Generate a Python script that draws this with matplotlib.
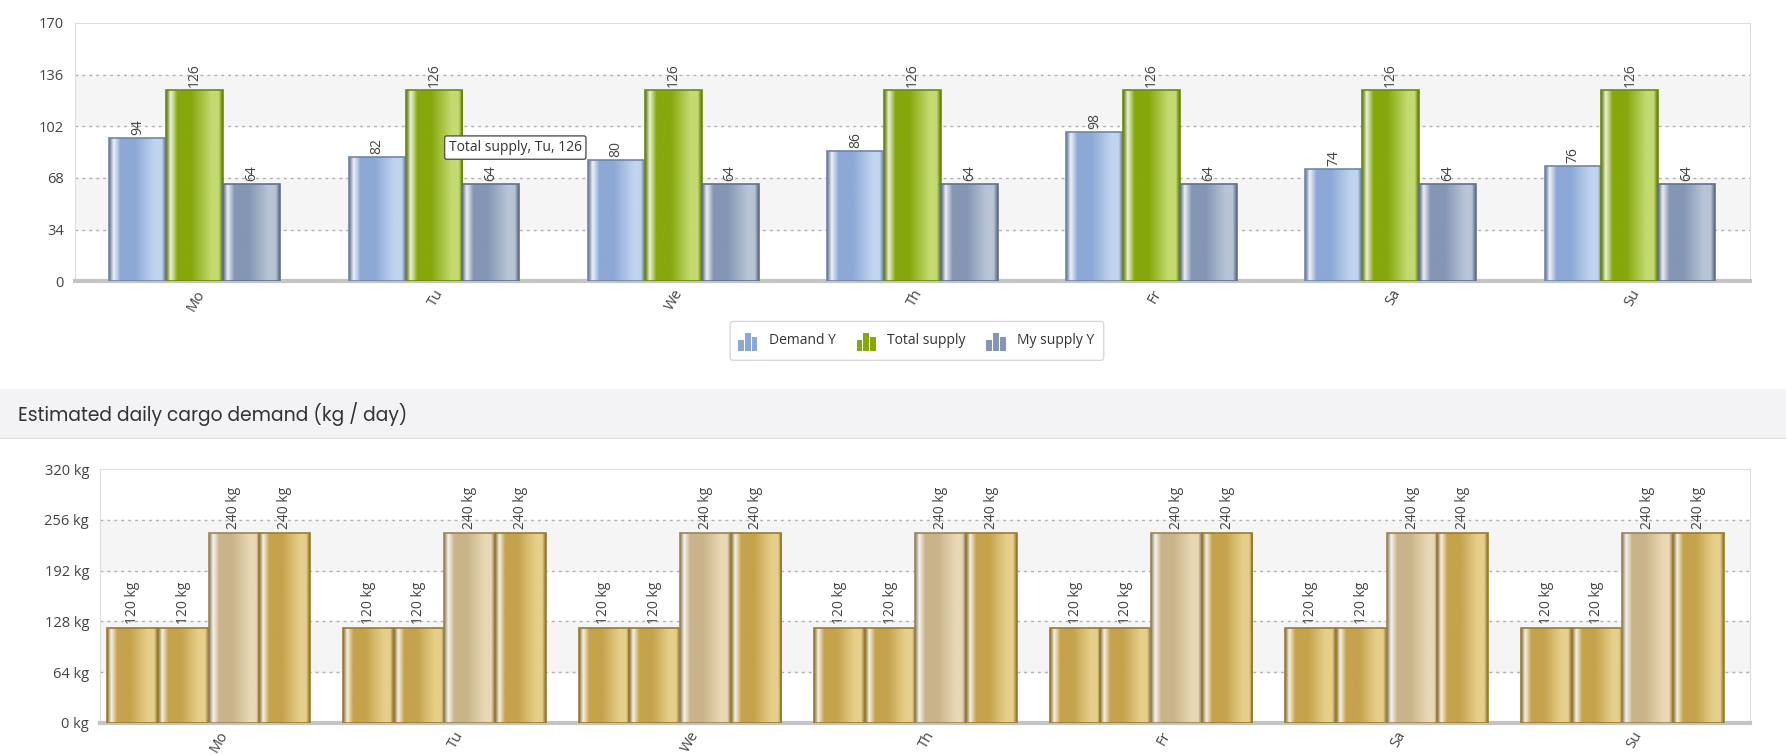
import matplotlib
matplotlib.use("Agg")
import matplotlib.pyplot as plt
import numpy as np
from matplotlib.colors import LinearSegmentedColormap, to_rgb
from matplotlib.patches import Rectangle, FancyBboxPatch

days = ["Mo", "Tu", "We", "Th", "Fr", "Sa", "Su"]
demand_y = [94, 82, 80, 86, 98, 74, 76]
total_supply = [126, 126, 126, 126, 126, 126, 126]
my_supply_y = [64, 64, 64, 64, 64, 64, 64]
top_ticks = [0, 34, 68, 102, 136, 170]

cargo_a = [120, 120, 120, 120, 120, 120, 120]
cargo_b = [120, 120, 120, 120, 120, 120, 120]
cargo_c = [240, 240, 240, 240, 240, 240, 240]
cargo_d = [240, 240, 240, 240, 240, 240, 240]
bottom_ticks = [0, 64, 128, 192, 256, 320]

W, H = 1568, 660
fig = plt.figure(figsize=(17.86, 7.55), dpi=100)
fig.patch.set_facecolor("white")
plt.rcParams['font.family'] = ['Open Sans', 'DejaVu Sans']

def ax_rect(l, t, r, b):
    return [l / W, 1 - b / H, (r - l) / W, (b - t) / H]

def mix(c, w, f):
    c = np.array(to_rgb(c)); w = np.array(to_rgb(w))
    return tuple(c * (1 - f) + w * f)

def grad_cmap(base, light):
    dark = mix(base, "black", 0.3)
    stops = [(0, dark), (0.08, mix(base, "white", 0.85)), (0.2, base),
             (0.45, base), (0.8, light), (0.93, light), (1, dark)]
    return LinearSegmentedColormap.from_list("g", stops)

def gbar(ax, x, h, w, base, light, edge):
    r = Rectangle((x - w / 2, 0), w, h, facecolor=base, edgecolor="none", zorder=3)
    ax.add_patch(r)
    im = ax.imshow(np.linspace(0, 1, 200)[None, :], cmap=grad_cmap(base, light),
                   extent=(x - w / 2, x + w / 2, 0, h), aspect="auto", zorder=3,
                   interpolation="bilinear")
    im.set_clip_path(r)
    ax.add_patch(Rectangle((x - w / 2, 0), w, h, facecolor="none",
                           edgecolor=edge, lw=1.2, zorder=4))

def style_axes(ax, ticks, fmt):
    ymax = ticks[-1]
    ax.set_ylim(0, ymax)
    ax.set_xlim(-0.5, 6.5)
    for i in range(len(ticks) - 1):
        if i % 2 == 1:
            ax.axhspan(ticks[i], ticks[i + 1], color="#f5f5f5", zorder=0)
    for t in ticks[1:-1]:
        ax.axhline(t, color="#b0b0b0", lw=1, ls=(0, (2, 3)), zorder=1)
    ax.set_yticks(ticks)
    ax.set_yticklabels([fmt(t) for t in ticks], fontsize=10.5, color="#444444")
    ax.set_xticks(range(7))
    ax.set_xticklabels(days, rotation=60, fontsize=10.5, color="#444444", ha="right",
                       rotation_mode="anchor")
    ax.tick_params(axis="y", length=0, pad=8)
    ax.tick_params(axis="x", length=0, pad=4)
    for s in ["top", "right", "left"]:
        ax.spines[s].set_color("#dddddd")
    ax.spines["bottom"].set_color("#c4c4c4")
    ax.spines["bottom"].set_linewidth(3)

# ---------- top chart ----------
ax1 = fig.add_axes(ax_rect(66, 20, 1536, 246))
style_axes(ax1, top_ticks, lambda t: str(t))
series1 = [(demand_y, "#8ca8d6", "#c0d4ef", "#6f86a8"),
           (total_supply, "#86a80c", "#c4da72", "#6d8a0a"),
           (my_supply_y, "#8496b4", "#b8c4d6", "#5f7290")]
bw = 0.238
for si, (vals, base, light, edge) in enumerate(series1):
    for i, v in enumerate(vals):
        x = i + (si - 1) * bw
        gbar(ax1, x, v, bw, base, light, edge)
        ax1.text(x, v + 2, str(v), rotation=90, ha="center", va="bottom",
                 fontsize=10, color="#444444", zorder=5)

# tooltip
ax1.text(1.34, 88, "Total supply, Tu, 126", fontsize=10, color="#333333",
         va="center", ha="center", zorder=6,
         bbox=dict(boxstyle="round,pad=0.3,rounding_size=0.15", fc="white", ec="#555555", lw=1))

# legend
lax = fig.add_axes(ax_rect(640, 280, 970, 316))
lax.set_xlim(0, 330); lax.set_ylim(0, 36)
lax.axis("off")
lax.add_patch(FancyBboxPatch((1, 1), 328, 34, boxstyle="round,pad=0,rounding_size=3",
                             fc="white", ec="#d8d8d8", lw=1))
leg_items = [("Demand Y", "#8ca8d6", 8), ("Total supply", "#86a80c", 112),
             ("My supply Y", "#8496b4", 226)]
for name, col, x0 in leg_items:
    for k, hh in enumerate([10, 16, 12]):
        lax.add_patch(Rectangle((x0 + k * 6, 9), 5, hh, fc=col, ec="none"))
    lax.text(x0 + 27, 18, name, fontsize=10, color="#333333", va="center")

# ---------- header band ----------
hax = fig.add_axes(ax_rect(0, 340, W, 384))
hax.set_xlim(0, 1); hax.set_ylim(0, 1); hax.axis("off")
hax.add_patch(Rectangle((0, 0), 1, 1, fc="#f3f3f5", ec="none"))
hax.axhline(0.0, color="#e0e0e0", lw=1.5)
hax.text(16 / W, 0.5, "Estimated daily cargo demand (kg / day)",
         fontsize=13.5, color="#333333", va="center", family=["Poppins", "Lato", "DejaVu Sans"])

# ---------- bottom chart ----------
ax2 = fig.add_axes(ax_rect(88, 410, 1536, 632))
style_axes(ax2, bottom_ticks, lambda t: f"{t} kg")
gold, gold_l, gold_e = "#c5a24c", "#e6cf8a", "#9a7c30"
beige, beige_l, beige_e = "#c9b48a", "#e8d8b4", "#9a8558"
series2 = [(cargo_a, gold, gold_l, gold_e), (cargo_b, gold, gold_l, gold_e),
           (cargo_c, beige, beige_l, beige_e), (cargo_d, gold, gold_l, gold_e)]
bw2 = 0.215
for si, (vals, base, light, edge) in enumerate(series2):
    for i, v in enumerate(vals):
        x = i + (si - 1.5) * bw2 - 0.04
        gbar(ax2, x, v, bw2, base, light, edge)
        ax2.text(x, v + 5, f"{v} kg", rotation=90, ha="center", va="bottom",
                 fontsize=10, color="#444444", zorder=5)

fig.savefig("out.png", dpi=100, facecolor="white")
